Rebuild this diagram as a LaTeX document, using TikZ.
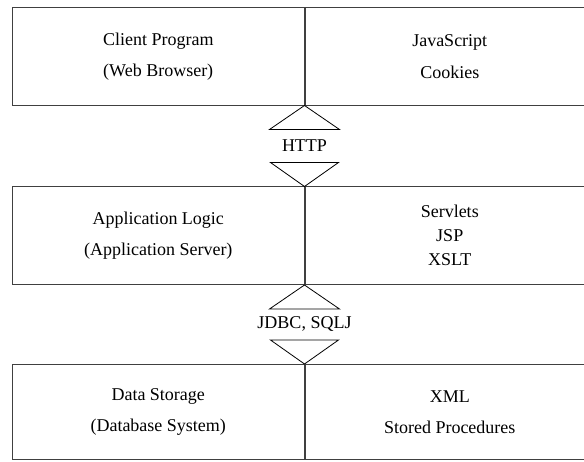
\documentclass[tikz,border=0pt]{standalone}
\usepackage{fontspec}
\setmainfont{Liberation Serif}
\usetikzlibrary{positioning,calc}

\tikzset{
  tier/.style={draw=black!75, line width=0.5pt, minimum width=292pt,
    minimum height=98pt, inner sep=0pt, align=center,
    font=\fontsize{18}{24}\selectfont},
  tech/.style={tier, minimum width=290pt},
  proto/.style={inner sep=0pt, font=\fontsize{18}{24}\selectfont},
  wedge/.style={draw=black, line width=0.8pt, line join=miter}
}

\begin{document}
\begin{tikzpicture}[x=1pt,y=1pt]
  \useasboundingbox (0,0) rectangle (584,-462);
  % the three tiers
  \node[tier, anchor=north west] (client) at (12,-7)
    {Client Program\\[7pt](Web Browser)};
  \node[tech, right=0pt of client] (js) {JavaScript\\[8pt]Cookies};
  \node[tier, below=81pt of client] (app)
    {Application Logic\\[7pt](Application Server)};
  \node[tech, right=0pt of app] (servlets) {Servlets\\JSP\\XSLT};
  \node[tier, minimum height=95pt, below=79pt of app] (db)
    {Data Storage\\[7pt](Database System)};
  \node[tech, minimum height=95pt, right=0pt of db] (xml)
    {XML\\[7pt]Stored Procedures};
  % protocols between tiers
  \node[proto] (http) at ($(client.south east)!0.5!(app.north east)$) {HTTP};
  \node[proto] (jdbc) at ($(app.south east)!0.5!(db.north east)$) {JDBC, SQLJ};
  \draw[wedge] (client.south east) -- ++(-35,-24) -- ++(70,0) -- cycle;
  \draw[wedge] (app.north east) -- ++(-34,24) -- ++(68,0) -- cycle;
  \draw[wedge] (app.south east) -- ++(-35,-24) -- ++(70,0) -- cycle;
  \draw[wedge] (db.north east) -- ++(-34,24) -- ++(68,0) -- cycle;
\end{tikzpicture}
\end{document}
